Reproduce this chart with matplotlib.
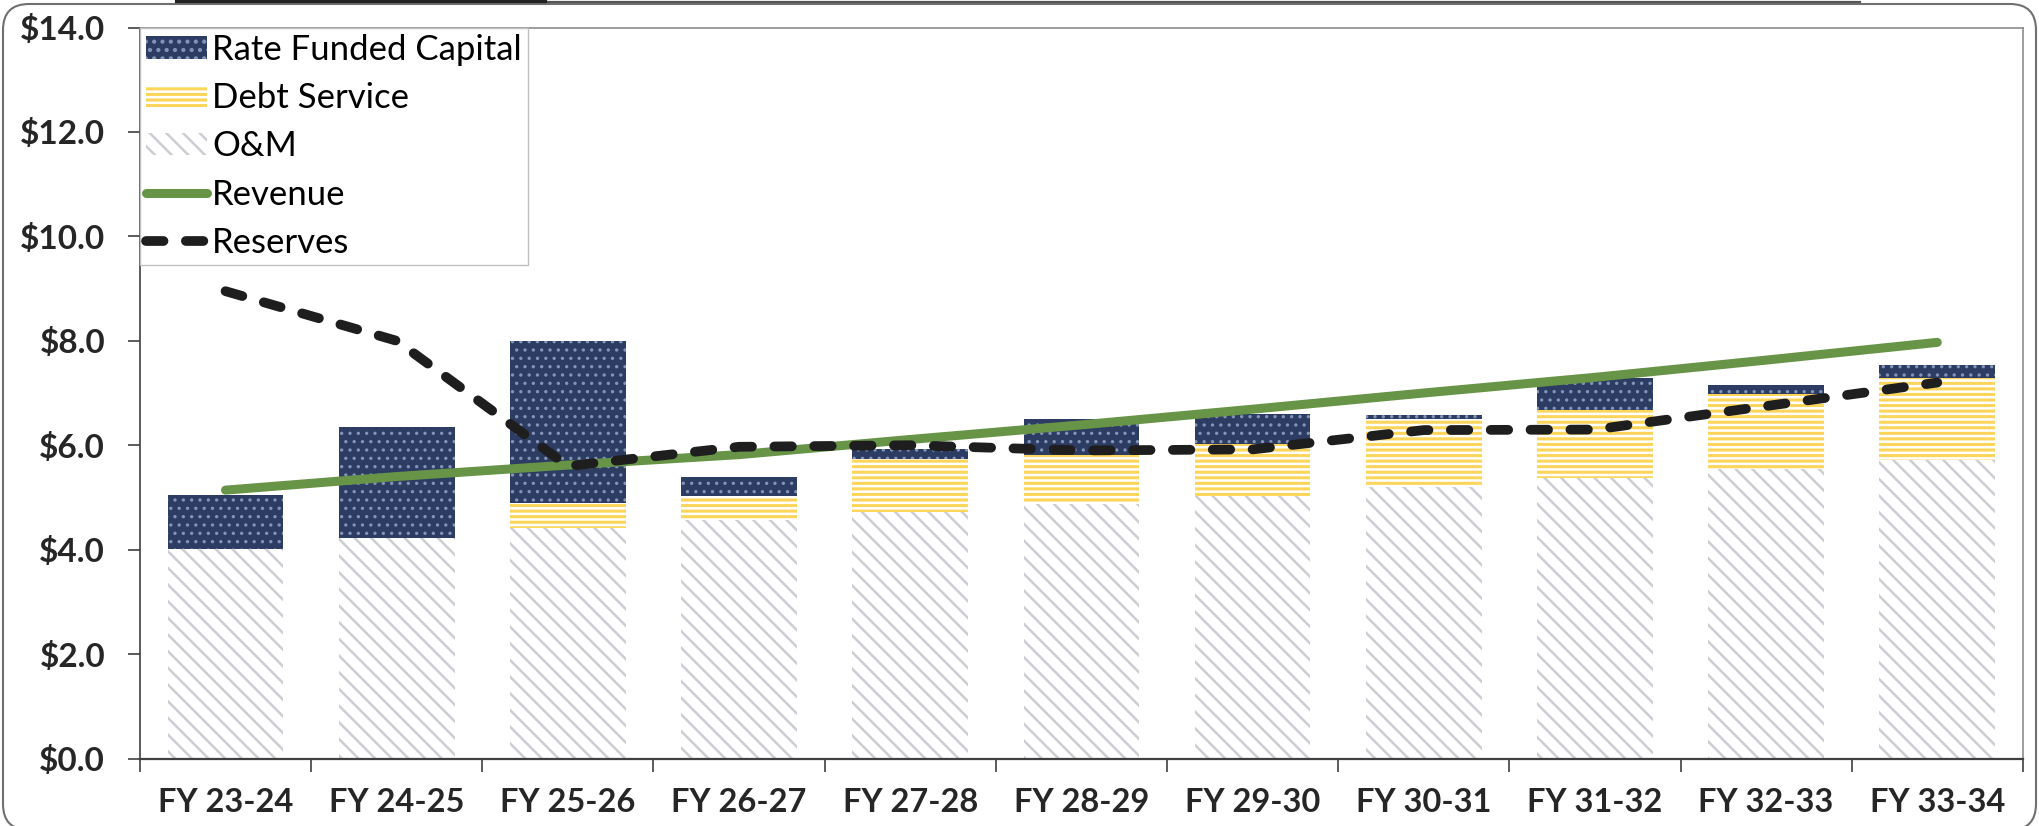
"""
Rate revenue vs. expenses and reserves, FY 23-24 to FY 33-34.
Saves out.png
"""

import numpy as np
import matplotlib.pyplot as plt
from matplotlib.patches import FancyBboxPatch
from matplotlib.lines import Line2D
from matplotlib.transforms import IdentityTransform
from matplotlib.ticker import FuncFormatter

plt.rcParams["font.family"] = ["Lato", "DejaVu Sans"]
plt.rcParams["hatch.linewidth"] = 1.8

# ── data ($ millions) ─────────────────────────────────────────────────────────
years = ["FY 23-24", "FY 24-25", "FY 25-26", "FY 26-27", "FY 27-28", "FY 28-29",
         "FY 29-30", "FY 30-31", "FY 31-32", "FY 32-33", "FY 33-34"]

om           = [4.01, 4.22, 4.42, 4.56, 4.72, 4.88, 5.03, 5.20, 5.37, 5.55, 5.71]
debt_service = [0.00, 0.00, 0.47, 0.47, 1.01, 0.93, 0.99, 1.30, 1.31, 1.43, 1.57]
rate_capital = [1.04, 2.12, 3.11, 0.37, 0.20, 0.69, 0.58, 0.07, 0.60, 0.18, 0.26]

revenue  = [5.14, 5.40, 5.62, 5.82, 6.11, 6.39, 6.69, 7.00, 7.30, 7.63, 7.97]
reserves = [8.95, 8.00, 5.60, 5.97, 6.00, 5.90, 5.92, 6.29, 6.30, 6.75, 7.20]

NAVY   = "#2c3c62"
DOTS   = "#8494b8"
YELLOW = "#fcd55a"
GREY   = "#ccced3"
GREEN  = "#679447"
BLACK  = "#1e1e1e"

# ── figure ────────────────────────────────────────────────────────────────────
fig = plt.figure(figsize=(20.4, 8.26), dpi=100)
fig.patch.set_facecolor("white")
ax = fig.add_axes([0.0686, 0.0817, 0.923, 0.885])

x = np.arange(len(years))
w = 0.676
om_arr = np.array(om)
bottom_cap = om_arr + np.array(debt_service)

b_om = ax.bar(x, om, width=w, color="white", edgecolor=GREY,
              hatch="\\\\", linewidth=0, zorder=2)
b_debt = ax.bar(x, debt_service, width=w, bottom=om, color=YELLOW,
                edgecolor="white", hatch="---", linewidth=0, zorder=2)
with plt.rc_context({"hatch.linewidth": 1.2}):
    b_cap = ax.bar(x, rate_capital, width=w, bottom=bottom_cap, color=NAVY,
                   edgecolor=DOTS, hatch="..", linewidth=0, zorder=2)

ln_rev, = ax.plot(x, revenue, color=GREEN, lw=6.5, solid_capstyle="round",
                  zorder=3)
ln_res, = ax.plot(x, reserves, color=BLACK, lw=7, dashes=(1.8, 2.3),
                  dash_capstyle="round", zorder=4)

# ── axes styling ──────────────────────────────────────────────────────────────
ax.set_xlim(-0.5, len(years) - 0.5)
ax.set_ylim(0, 14)
ax.set_yticks(np.arange(0, 15, 2))
ax.yaxis.set_major_formatter(FuncFormatter(lambda v, _: f"${v:.1f}"))

ax.set_xticks(x)
ax.set_xticklabels(years)
ax.set_xticks(np.arange(-0.5, len(years), 1), minor=True)

ax.tick_params(axis="x", which="major", length=0, pad=21,
               labelsize=23.5, labelcolor="#262626")
ax.tick_params(axis="x", which="minor", length=9, width=1.2,
               color="#404040", direction="out")
ax.tick_params(axis="y", length=9, width=1.2, pad=16, color="#404040",
               labelsize=24, labelcolor="#262626")
for lab in ax.get_xticklabels() + ax.get_yticklabels():
    lab.set_fontweight("bold")

ax.spines["left"].set_color("#404040")
ax.spines["left"].set_linewidth(1.2)
ax.spines["bottom"].set_color("#404040")
ax.spines["bottom"].set_linewidth(1.6)
for side in ("top", "right"):
    ax.spines[side].set_color("#8c8c8c")
    ax.spines[side].set_linewidth(1.2)

leg = ax.legend(handles=[b_cap, b_debt, b_om, ln_rev, ln_res],
                labels=["Rate Funded Capital", "Debt Service", "O&M",
                        "Revenue", "Reserves"],
                loc="upper left", bbox_to_anchor=(0.0, 1.0),
                borderaxespad=0, fontsize=25, fancybox=False, framealpha=1,
                edgecolor="#c0c0c0", handlelength=1.75, handleheight=0.6,
                handletextpad=0.15, labelspacing=0.47, borderpad=0.18)
leg.get_frame().set_linewidth(1.0)
leg.set_zorder(5)

# ── outer chart frame ─────────────────────────────────────────────────────────
frame = FancyBboxPatch((3, -4), 2033, 826, boxstyle="round,pad=0,rounding_size=26",
                       transform=IdentityTransform(), fill=False,
                       edgecolor="#707070", linewidth=1.5)
fig.add_artist(frame)
fig.add_artist(Line2D([177, 1860], [824.5, 824.5], transform=IdentityTransform(),
                      color="#555555", lw=1.6))
fig.add_artist(Line2D([177, 545], [825, 825], transform=IdentityTransform(),
                      color="#222222", lw=3))

fig.savefig("out.png", dpi=100, facecolor="white")
